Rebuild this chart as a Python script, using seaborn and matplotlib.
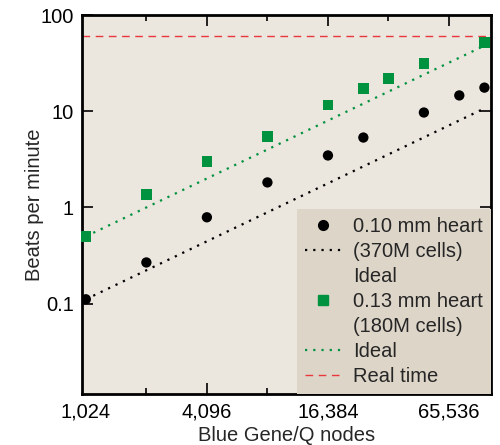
import matplotlib
matplotlib.use("Agg")
import matplotlib.pyplot as plt
from matplotlib.lines import Line2D
from matplotlib.ticker import FixedLocator, NullFormatter, NullLocator
import pandas as pd
import seaborn as sns

# ---- data ----
nodes_small = [1024, 2048, 4096, 8192, 16384, 24576, 49152, 73728, 98304]
bpm_small = [0.111, 0.268, 0.79, 1.82, 3.47, 5.33, 9.7, 14.6, 17.6]

nodes_large = [1024, 2048, 4096, 8192, 16384, 24576, 32768, 49152, 98304]
bpm_large = [0.50, 1.36, 3.0, 5.46, 11.7, 17.2, 21.9, 31.3, 51.7]

ideal_nodes = [1024, 98304]
ideal_small = [0.111, 10.7]
ideal_large = [0.50, 48.0]

real_time_bpm = 60

x_ticks = [1024, 4096, 16384, 65536]
x_labels = ["1,024", "4,096", "16,384", "65,536"]
x_minor = [2048, 8192, 32768]
y_ticks = [0.1, 1, 10, 100]
y_labels = ["0.1", "1", "10", "100"]

C_BG = "#ebe6de"
C_LEG = "#ddd5c8"
C_GREEN = "#00923f"
C_RED = "#e8383d"
FS = 14.5

sns.set_style("ticks")
plt.rcParams["font.family"] = ["Liberation Sans", "DejaVu Sans"]
plt.rcParams["font.size"] = FS

df_small = pd.DataFrame({"nodes": nodes_small, "bpm": bpm_small})
df_large = pd.DataFrame({"nodes": nodes_large, "bpm": bpm_large})
df_ideal = pd.DataFrame({"nodes": ideal_nodes, "small": ideal_small, "large": ideal_large})

fig = plt.figure(figsize=(5, 4.45), dpi=100)
ax = fig.add_axes([0.164, 0.1146, 0.818, 0.8516])
ax.set_facecolor(C_BG)
ax.set_xscale("log", base=2)
ax.set_yscale("log")

# ideal scaling + real-time reference
dots = (0, (1, 2.7))
sns.lineplot(data=df_ideal, x="nodes", y="small", color="black", lw=1.6,
             linestyle=dots, ax=ax, zorder=2)
sns.lineplot(data=df_ideal, x="nodes", y="large", color=C_GREEN, lw=1.6,
             linestyle=dots, ax=ax, zorder=2)
ax.axhline(real_time_bpm, color=C_RED, lw=1.0, dashes=(5.5, 4), zorder=2)

# measured points
sns.scatterplot(data=df_small, x="nodes", y="bpm", color="black", marker="o",
                s=55, edgecolor="none", ax=ax, zorder=3)
sns.scatterplot(data=df_large, x="nodes", y="bpm", color=C_GREEN, marker="s",
                s=55, edgecolor="none", ax=ax, zorder=3, clip_on=False)

ax.set_xlim(980, 106000)
ax.set_ylim(0.0115, 100)

ax.xaxis.set_major_locator(FixedLocator(x_ticks))
ax.set_xticklabels(x_labels)
ax.xaxis.set_minor_locator(FixedLocator(x_minor))
ax.xaxis.set_minor_formatter(NullFormatter())
ax.yaxis.set_major_locator(FixedLocator(y_ticks))
ax.set_yticklabels(y_labels)
ax.yaxis.set_minor_locator(NullLocator())

ax.tick_params(which="both", direction="in", top=True, right=True, color="black",
               labelsize=FS, labelcolor="black")
ax.tick_params(which="major", length=8, width=1.2, pad=6)
ax.tick_params(which="minor", length=4, width=1.2)
first = ax.xaxis.get_major_ticks()[0]
first.tick1line.set_visible(False)
first.tick2line.set_visible(False)

for sp in ax.spines.values():
    sp.set_visible(True)
    sp.set_color("black")
    sp.set_linewidth(2)

ax.set_xlabel("Blue Gene/Q nodes", fontsize=FS, labelpad=3)
ax.set_ylabel("Beats per minute", fontsize=FS, labelpad=-3)

blank = Line2D([], [], linestyle="none")
handles = [
    Line2D([], [], color="black", marker="o", linestyle="none", markersize=7),
    Line2D([], [], color="black", lw=1.6, linestyle=dots),
    blank,
    Line2D([], [], color=C_GREEN, marker="s", linestyle="none", markersize=7),
    blank,
    Line2D([], [], color=C_GREEN, lw=1.6, linestyle=dots),
    Line2D([], [], color=C_RED, lw=1.0, dashes=(5.5, 4)),
]
labels = ["0.10 mm heart", "(370M cells)", "Ideal", "0.13 mm heart",
          "(180M cells)", "Ideal", "Real time"]
leg = ax.legend(handles, labels, loc="lower right", borderaxespad=0,
                frameon=True, fancybox=False, facecolor=C_LEG, edgecolor=C_LEG,
                framealpha=1, fontsize=FS, handlelength=1.8, handletextpad=0.6,
                labelspacing=0.3, borderpad=0.4)
leg.get_frame().set_linewidth(0)
leg.set_zorder(4)

fig.savefig("out.png", dpi=100)
